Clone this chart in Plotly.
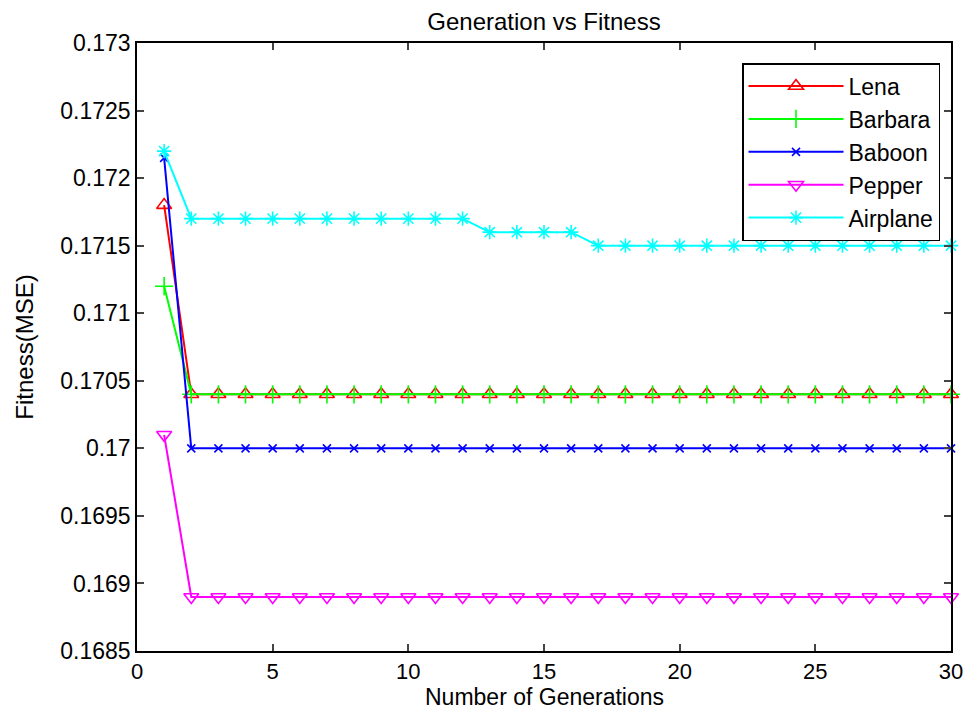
import plotly.graph_objects as go

generations = list(range(1, 31))
lena = [0.1718] + [0.1704] * 29
barbara = [0.1712] + [0.1704] * 29
baboon = [0.17215] + [0.1700] * 29
pepper = [0.1701] + [0.1689] * 29
airplane = [0.1722] + [0.1717] * 11 + [0.1716] * 4 + [0.1715] * 14

y_tick_vals = [0.1685, 0.169, 0.1695, 0.17, 0.1705, 0.171, 0.1715, 0.172, 0.1725, 0.173]
y_tick_text = ["0.1685", "0.169", "0.1695", "0.17", "0.1705", "0.171", "0.1715", "0.172", "0.1725", "0.173"]
x_tick_vals = [0, 5, 10, 15, 20, 25, 30]

series = [
    ("Lena", lena, "#ff0000", "triangle-up-open", 13),
    ("Barbara", barbara, "#00ff00", "cross-thin-open", 13),
    ("Baboon", baboon, "#0000ff", "x-thin-open", 8),
    ("Pepper", pepper, "#ff00ff", "triangle-down-open", 13),
    ("Airplane", airplane, "#00ffff", "asterisk-open", 12),
]

fig = go.Figure()
for name, vals, color, sym, size in series:
    fig.add_trace(go.Scatter(
        x=generations, y=vals, name=name, mode="lines+markers",
        line=dict(color=color, width=2),
        marker=dict(symbol=sym, size=size, color=color, line=dict(color=color, width=1.6)),
        cliponaxis=False,
    ))

W, H = 966, 711
L, R, T, B = 137, 15, 43, 60
font_family = "Liberation Sans, Arial, sans-serif"
fig.update_layout(
    width=W, height=H,
    margin=dict(l=L, r=R, t=T, b=B),
    paper_bgcolor="white", plot_bgcolor="white",
    title=dict(text="Generation vs Fitness", x=0.5 * (L + W - R) / W, xanchor="center",
               y=1 - 22 / H, yanchor="middle",
               font=dict(family=font_family, size=24, color="black")),
    font=dict(family=font_family, color="black"),
    xaxis=dict(range=[0, 30], tickvals=x_tick_vals, ticks="inside", ticklen=7, tickwidth=1.5,
               showline=True, linecolor="black", linewidth=1.5, mirror="ticks", showgrid=False,
               zeroline=False, tickfont=dict(size=22), automargin=False,
               ticklabeloverflow="allow"),
    yaxis=dict(range=[0.1685, 0.173], tickvals=y_tick_vals, ticktext=y_tick_text, ticks="inside",
               ticklen=7, tickwidth=1.5, showline=True, linecolor="black", linewidth=1.5,
               mirror="ticks", showgrid=False, zeroline=False, tickfont=dict(size=23),
               automargin=False,
               title=dict(text="Fitness(MSE)", font=dict(size=24), standoff=20)),
    legend=dict(x=0.9865, y=0.967, xanchor="right", yanchor="top", bordercolor="black", borderwidth=1.5,
                bgcolor="white", font=dict(size=23), itemwidth=95, tracegroupgap=0),
    showlegend=True,
    annotations=[dict(text="Number of Generations", xref="paper", yref="paper",
                      x=0.5, y=-46 / (H - T - B), xanchor="center", yanchor="middle",
                      showarrow=False, font=dict(size=23, color="black"))],
)

fig.write_html("out.html", config={"displayModeBar": False},
               post_script="document.body.style.margin='0';document.body.style.overflow='hidden';")
